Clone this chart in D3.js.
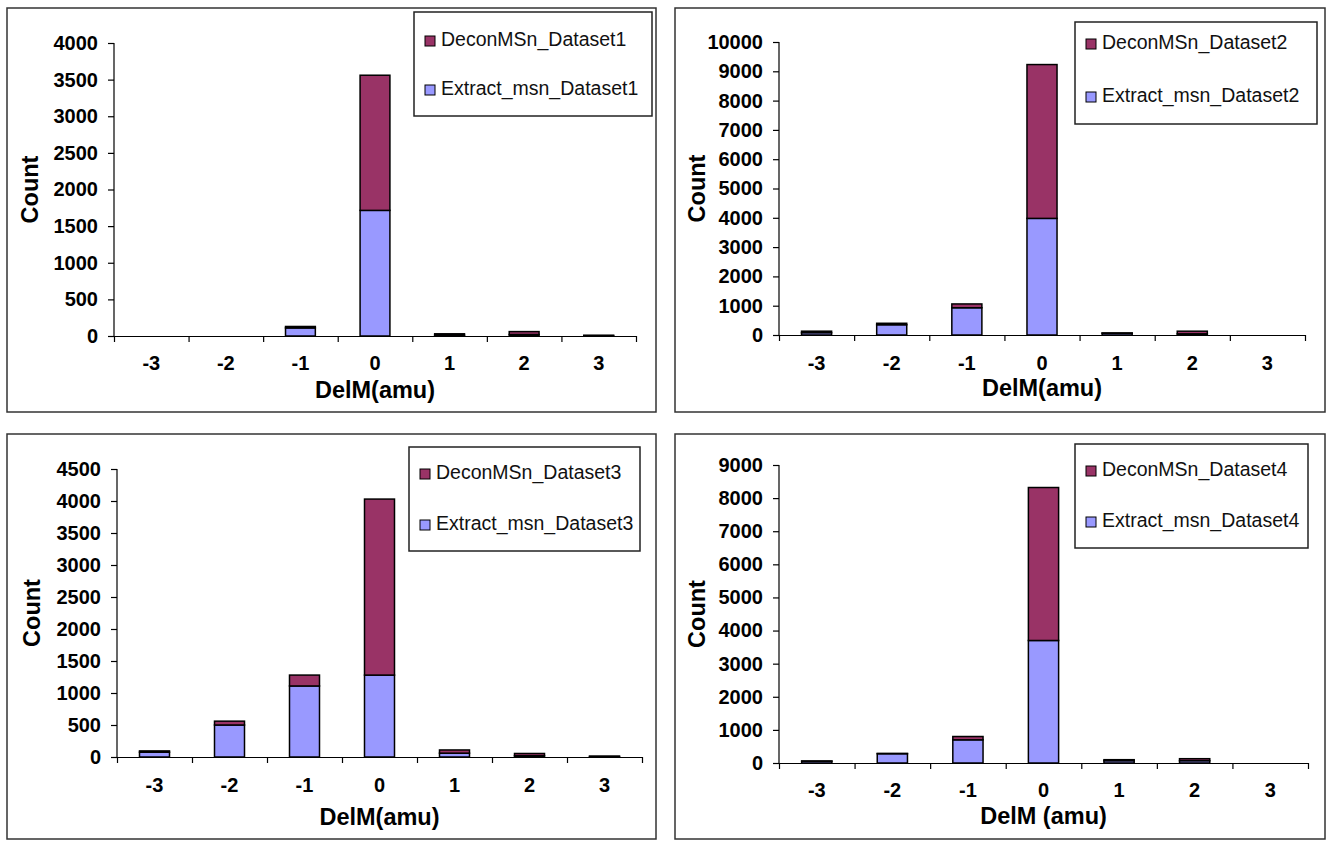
<!DOCTYPE html>
<html>
<head>
    <meta charset="UTF-8">
    <title>DelM histograms</title>
    <script src="https://d3js.org/d3.v7.min.js"></script>
    <style>
        body {
            margin: 0;
            background: #fff;
        }
        svg text {
            font-family: "Liberation Sans", Arial, sans-serif;
            fill: #000;
        }
        .tick text {
            font-size: 20px;
            font-weight: bold;
        }
        .axis path, .axis line {
            stroke: #000;
            stroke-width: 1.2px;
        }
        .title {
            font-size: 23.5px;
            font-weight: bold;
        }
        .legend text {
            font-size: 19.5px;
            fill: #111;
        }
    </style>
</head>
<body>
    <div id="chart"></div>

    <script>
        // x categories (mass difference in amu)
        const categories = ["-3", "-2", "-1", "0", "1", "2", "3"];

        // counts, bottom segment = Extract_msn, top = DeconMSn
        const extract1 = [0, 0, 110, 1715, 10, 20, 5];
        const decon1   = [0, 0, 20, 1845, 20, 40, 5];

        const extract2 = [80, 350, 930, 3980, 60, 40, 0];
        const decon2   = [50, 50, 130, 5250, 10, 90, 0];

        const extract3 = [75, 500, 1110, 1280, 60, 20, 5];
        const decon3   = [20, 60, 170, 2750, 50, 35, 10];

        const extract4 = [55, 280, 700, 3700, 70, 70, 0];
        const decon4   = [5, 10, 100, 4620, 30, 60, 0];

        const yTicks1 = [0, 500, 1000, 1500, 2000, 2500, 3000, 3500, 4000];
        const yTicks2 = [0, 1000, 2000, 3000, 4000, 5000, 6000, 7000, 8000, 9000, 10000];
        const yTicks3 = [0, 500, 1000, 1500, 2000, 2500, 3000, 3500, 4000, 4500];
        const yTicks4 = [0, 1000, 2000, 3000, 4000, 5000, 6000, 7000, 8000, 9000];

        const seriesNames = ["DeconMSn_Dataset", "Extract_msn_Dataset"];
        const xTitles = ["DelM(amu)", "DelM(amu)", "DelM(amu)", "DelM (amu)"];

        const colors = { decon: "#993366", extract: "#9999ff" };

        // where each panel sits on the page
        const panels = [
            { extract: extract1, decon: decon1, ticks: yTicks1, n: 1,
              frame: [7, 8, 656, 412], plot: [114, 636, 43, 336],
              legend: [414, 12, 652, 116], legendY: [41, 90],
              countX: 32, tickY: 365, titleY: 392 },
            { extract: extract2, decon: decon2, ticks: yTicks2, n: 2,
              frame: [675, 8, 1325, 412], plot: [779, 1305, 42, 335],
              legend: [1075, 22, 1317, 124], legendY: [44, 97],
              countX: 699, tickY: 365, titleY: 390 },
            { extract: extract3, decon: decon3, ticks: yTicks3, n: 3,
              frame: [7, 434, 656, 839], plot: [117, 642, 469, 757],
              legend: [409, 447, 640, 551], legendY: [474, 525],
              countX: 34, tickY: 787, titleY: 819 },
            { extract: extract4, decon: decon4, ticks: yTicks4, n: 4,
              frame: [675, 434, 1325, 839], plot: [779, 1308, 465, 763],
              legend: [1075, 444, 1308, 548], legendY: [471, 522],
              countX: 699, tickY: 792, titleY: 818 }
        ];

        const svg = d3.select("#chart")
            .append("svg")
            .attr("width", 1331)
            .attr("height", 842);

        panels.forEach((p, i) => {
            const g = svg.append("g");
            const [x0, x1, yTop, yBot] = p.plot;

            // outer frame
            g.append("rect")
                .attr("x", p.frame[0])
                .attr("y", p.frame[1])
                .attr("width", p.frame[2] - p.frame[0])
                .attr("height", p.frame[3] - p.frame[1])
                .attr("fill", "none")
                .attr("stroke", "#333")
                .attr("stroke-width", 1.5);

            const x = d3.scaleBand()
                .domain(categories)
                .range([x0, x1])
                .paddingInner(0.6)
                .paddingOuter(0.3);

            const xEdges = d3.scaleLinear()
                .domain([0, categories.length])
                .range([x0, x1]);

            const y = d3.scaleLinear()
                .domain([0, d3.max(p.ticks)])
                .range([yBot, yTop]);

            // stacked data
            const rows = categories.map((c, k) => ({
                cat: c,
                extract: p.extract[k],
                decon: p.decon[k]
            }));
            const stacked = d3.stack().keys(["extract", "decon"])(rows);

            g.selectAll("g.layer")
                .data(stacked)
                .join("g")
                .attr("class", "layer")
                .attr("fill", d => colors[d.key])
                .selectAll("rect")
                .data(d => d.filter(s => s[1] > s[0]))
                .join("rect")
                .attr("x", d => x(d.data.cat))
                .attr("width", x.bandwidth())
                .attr("y", d => y(d[1]))
                .attr("height", d => y(d[0]) - y(d[1]))
                .attr("stroke", "#000")
                .attr("stroke-width", 1.5);

            // y axis
            g.append("g")
                .attr("class", "axis")
                .attr("transform", `translate(${x0},0)`)
                .call(d3.axisLeft(y).tickValues(p.ticks).tickFormat(d3.format("d"))
                    .tickSize(6).tickPadding(10))
                .call(a => a.select(".domain").attr("d", `M0,${yTop}V${yBot}`));

            // x axis: ticks at category edges
            g.append("g")
                .attr("class", "axis")
                .attr("transform", `translate(0,${yBot})`)
                .call(d3.axisBottom(xEdges).tickValues(d3.range(categories.length + 1))
                    .tickFormat("").tickSize(6).tickSizeOuter(0));

            // x category labels
            g.selectAll("text.xlab")
                .data(categories)
                .join("text")
                .attr("class", "xlab")
                .attr("x", d => x(d) + x.bandwidth() / 2)
                .attr("y", p.tickY)
                .attr("text-anchor", "middle")
                .attr("dominant-baseline", "middle")
                .style("font-size", "20px")
                .style("font-weight", "bold")
                .text(d => d);

            // axis titles
            g.append("text")
                .attr("class", "title")
                .attr("transform", `translate(${p.countX},${(yTop + yBot) / 2}) rotate(-90)`)
                .attr("text-anchor", "middle")
                .attr("dominant-baseline", "middle")
                .text("Count");

            g.append("text")
                .attr("class", "title")
                .attr("x", (x0 + x1) / 2)
                .attr("y", p.titleY)
                .attr("text-anchor", "middle")
                .attr("dominant-baseline", "middle")
                .text(xTitles[i]);

            // legend
            const lg = g.append("g").attr("class", "legend");
            lg.append("rect")
                .attr("x", p.legend[0])
                .attr("y", p.legend[1])
                .attr("width", p.legend[2] - p.legend[0])
                .attr("height", p.legend[3] - p.legend[1])
                .attr("fill", "#fff")
                .attr("stroke", "#222")
                .attr("stroke-width", 1.5);

            const items = [
                { name: seriesNames[0] + p.n, color: colors.decon },
                { name: seriesNames[1] + p.n, color: colors.extract }
            ];
            items.forEach((it, k) => {
                lg.append("rect")
                    .attr("x", p.legend[0] + 11)
                    .attr("y", p.legendY[k] - 5)
                    .attr("width", 10)
                    .attr("height", 10)
                    .attr("fill", it.color)
                    .attr("stroke", "#000")
                    .attr("stroke-width", 1);
                lg.append("text")
                    .attr("x", p.legend[0] + 27)
                    .attr("y", p.legendY[k])
                    .attr("dominant-baseline", "middle")
                    .text(it.name);
            });
        });
    </script>
</body>
</html>
